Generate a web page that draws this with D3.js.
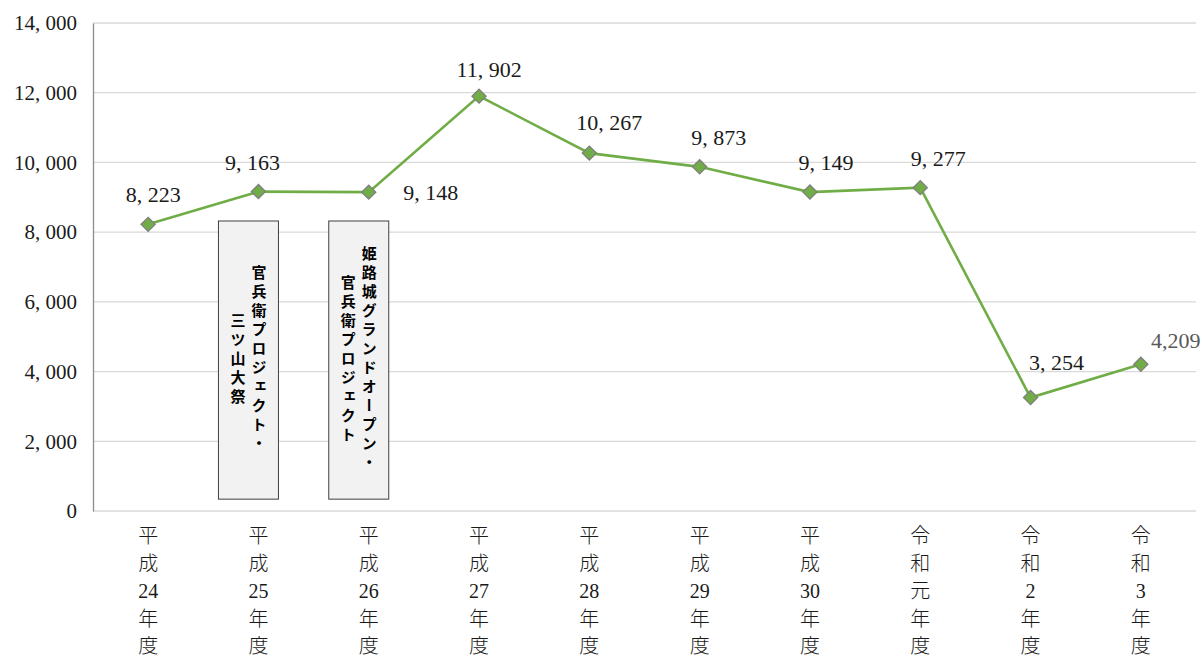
<!DOCTYPE html>
<html>
<head>
<meta charset="utf-8">
<script src="https://cdn.jsdelivr.net/npm/d3@7"></script>
<style>
  html, body { margin: 0; padding: 0; background: #fff; }
  svg { display: block; }
</style>
</head>
<body>
<svg id="chart" width="1202" height="659"></svg>
<script>
// ---- data ----
const categories = [
  ["平","成","24","年","度"],
  ["平","成","25","年","度"],
  ["平","成","26","年","度"],
  ["平","成","27","年","度"],
  ["平","成","28","年","度"],
  ["平","成","29","年","度"],
  ["平","成","30","年","度"],
  ["令","和","元","年","度"],
  ["令","和","2","年","度"],
  ["令","和","3","年","度"]
];
const values = [8223, 9163, 9148, 11902, 10267, 9873, 9149, 9277, 3254, 4209];
const yTicks = [0, 2000, 4000, 6000, 8000, 10000, 12000, 14000];
const annotations = [
  { category: 1, columns: ["官兵衛プロジェクト・", "三ツ山大祭"] },
  { category: 2, columns: ["姫路城グランドオープン・", "官兵衛プロジェクト"] }
];

// ---- label placement (style) ----
const labelOffsets = [
  [5, -22], [-6, -22], [62, 8], [10, -19], [20, -23],
  [19, -22], [16, -22], [18, -22], [26, -28], [35, -16]
];

const svg = d3.select("#chart");
const margin = { left: 93, right: 6, top: 23, bottom: 148 };
const W = 1202, H = 659;

const x = d3.scaleBand()
  .domain(d3.range(values.length))
  .range([margin.left, W - margin.right])
  .padding(0);
const y = d3.scaleLinear()
  .domain([0, 14000])
  .range([H - margin.bottom, margin.top]);

const serif = "'Liberation Serif', 'DejaVu Serif', 'Times New Roman', serif";
const cjk = "'Noto Sans CJK JP', sans-serif";
const cx = i => x(i) + x.bandwidth() / 2;

// gridlines
svg.append("g")
  .selectAll("line")
  .data(yTicks)
  .join("line")
  .attr("x1", margin.left).attr("x2", W - margin.right)
  .attr("y1", d => y(d)).attr("y2", d => y(d))
  .attr("stroke", "#d9d9d9").attr("stroke-width", 1.3);

// y axis
const yAxis = d3.axisLeft(y)
  .tickValues(yTicks)
  .tickSize(0)
  .tickPadding(16)
  .tickFormat(d => d3.format(",")(d).replace(/,/g, ", "));
const gy = svg.append("g")
  .attr("transform", `translate(${margin.left},0)`)
  .call(yAxis)
  .attr("font-family", serif);
gy.select(".domain").attr("stroke", "#8c8c8c").attr("stroke-width", 1.3);
gy.selectAll("text")
  .style("font-family", serif)
  .attr("font-size", 21)
  .attr("fill", "#1a1a1a");

// x axis labels (stacked characters)
const xl = svg.append("g");
categories.forEach((chars, i) => {
  const t = xl.append("text")
    .attr("text-anchor", "middle")
    .attr("font-size", 20)
    .attr("fill", "#1a1a1a");
  chars.forEach((c, k) => {
    const isNum = /[0-9]/.test(c);
    t.append("tspan")
      .attr("x", cx(i))
      .attr("y", 543 + k * 27.6)
      .style("font-family", isNum ? serif : cjk)
      .attr("font-weight", isNum ? 400 : 300)
      .text(c);
  });
});

// annotation boxes
const ann = svg.append("g");
annotations.forEach(a => {
  const bx = cx(a.category) - 40, bw = 60;
  const by = y(8320), bh = y(340) - y(8320);
  ann.append("rect")
    .attr("x", bx).attr("y", by).attr("width", bw).attr("height", bh)
    .attr("fill", "#f2f2f2").attr("stroke", "#404040").attr("stroke-width", 1);
  const midY = by + bh / 2;
  const colGap = 21;
  const n = a.columns.length;
  a.columns.forEach((col, k) => {
    const colX = bx + bw / 2 + ((n - 1) / 2 - k) * colGap;
    ann.append("text")
      .attr("x", colX)
      .attr("y", midY)
      .attr("text-anchor", "middle")
      .style("writing-mode", "vertical-rl")
      .style("text-orientation", "mixed")
      .style("font-family", cjk)
      .attr("font-weight", 700)
      .attr("font-size", 15)
      .attr("letter-spacing", 4)
      .attr("fill", "#000")
      .text(col);
  });
});

// line
svg.append("path")
  .datum(values)
  .attr("fill", "none")
  .attr("stroke", "#70ad47")
  .attr("stroke-width", 2.6)
  .attr("d", d3.line().x((d, i) => cx(i)).y(d => y(d)));

// markers
svg.append("g")
  .selectAll("path")
  .data(values)
  .join("path")
  .attr("transform", (d, i) => `translate(${cx(i)},${y(d)}) rotate(45)`)
  .attr("d", d3.symbol().type(d3.symbolSquare).size(100))
  .attr("fill", "#70ad47")
  .attr("stroke", "#7f7f7f")
  .attr("stroke-width", 1.3);

// data labels
svg.append("g")
  .selectAll("text")
  .data(values)
  .join("text")
  .attr("x", (d, i) => cx(i) + labelOffsets[i][0])
  .attr("y", (d, i) => y(d) + labelOffsets[i][1])
  .attr("text-anchor", "middle")
  .style("font-family", serif)
  .attr("font-size", 22)
  .attr("fill", (d, i) => i === values.length - 1 ? "#595959" : "#1a1a1a")
  .text((d, i) => i === values.length - 1 ? d3.format(",")(d) : d3.format(",")(d).replace(/,/g, ", "));
</script>
</body>
</html>
